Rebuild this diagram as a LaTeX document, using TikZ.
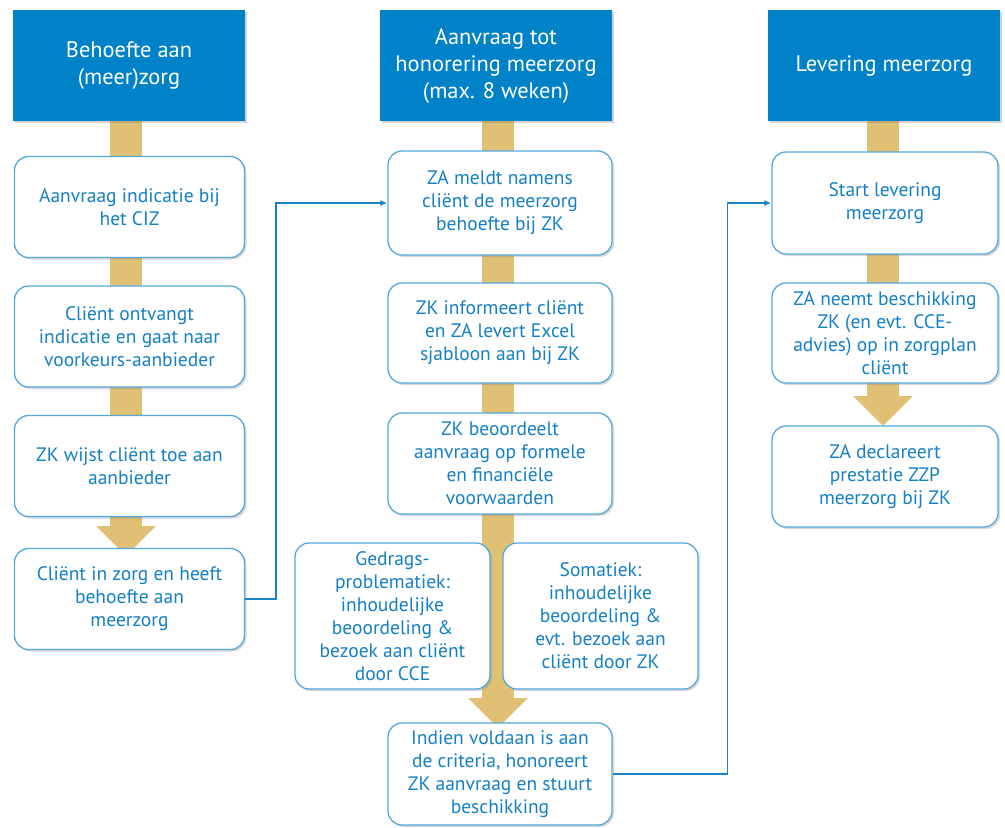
\documentclass[tikz,border=0pt]{standalone}
\usepackage{fontspec}
\setmainfont{PT Sans}
\usepackage{tikz}
\usetikzlibrary{arrows.meta,positioning,shadows}
\definecolor{hdblue}{HTML}{0082C8}
\definecolor{txblue}{HTML}{1580C6}
\definecolor{edblue}{HTML}{55A8DB}
\definecolor{gold}{HTML}{DFC075}
\definecolor{lnblue}{HTML}{1A82C6}

\begin{document}
\begin{tikzpicture}[
  x=1pt,y=-1pt,
  every node/.style={font=\fontsize{19.5}{23}\selectfont,align=center},
  header/.style={fill=hdblue,text=white,minimum width=232pt,minimum height=111pt,inner sep=2pt,
    font=\fontsize{22.4}{27}\selectfont,drop shadow={shadow xshift=2pt,shadow yshift=-2pt,opacity=.35}},
  stepbox/.style={draw=edblue,line width=1.3pt,rounded corners=14pt,fill=white,text=txblue,
    minimum width=230pt,minimum height=101pt,inner sep=2pt,
    drop shadow={shadow xshift=2pt,shadow yshift=-2pt,opacity=.3}},
  flow/.style={draw=gold,line width=32pt,-{Triangle[width=58pt,length=30pt]}},
  link/.style={draw=lnblue,line width=1.6pt,-{Latex[length=7pt,width=6pt]}}
]
\useasboundingbox (0,0) rectangle (1005,828);
\coordinate (top1) at (126,121);
\coordinate (tip1) at (126,556);
\coordinate (top2) at (498,121);
\coordinate (tip2) at (498,728);
\coordinate (top3) at (883,121);
\coordinate (tip3) at (883,426);
\draw[flow] (top1) -- (tip1);
\draw[flow] (top2) -- (tip2);
\draw[flow] (top3) -- (tip3);
\node[header] (h1) at (129,65.5) {Behoefte aan\\(meer)zorg};
\node[header] (h2) at (496,65.5) {Aanvraag tot\\honorering meerzorg\\(max. 8 weken)};
\node[header] (h3) at (884,65.5) {Levering meerzorg};
\node[stepbox] (b1) at (129.5,207) {Aanvraag indicatie bij\\het CIZ};
\node[stepbox] (b2) at (129.5,336.5) {Cliënt ontvangt\\indicatie en gaat naar\\voorkeurs-aanbieder};
\node[stepbox] (b3) at (129.5,466) {ZK wijst cliënt toe aan\\aanbieder};
\node[stepbox] (b4) at (129.5,599) {Cliënt in zorg en heeft\\behoefte aan\\meerzorg};
\node[stepbox,minimum width=224pt,minimum height=104pt] (c1) at (500,203) {ZA meldt namens\\cliënt de meerzorg\\behoefte bij ZK};
\node[stepbox,minimum width=224pt,minimum height=100pt] (c2) at (500,333) {ZK informeert cliënt\\en ZA levert Excel\\sjabloon aan bij ZK};
\node[stepbox,minimum width=224pt] (c3) at (500,463.5) {ZK beoordeelt\\aanvraag op formele\\en financiële\\voorwaarden};
\node[stepbox,minimum width=195pt,minimum height=146pt] (c4) at (392.5,616) {Gedrags-\\problematiek:\\inhoudelijke\\beoordeling \&\\bezoek aan cliënt\\door CCE};
\node[stepbox,minimum width=195pt,minimum height=146pt] (c6) at (600.5,616) {Somatiek:\\inhoudelijke\\beoordeling \&\\evt. bezoek aan\\cliënt door ZK};
\node[stepbox,minimum width=224pt,minimum height=102pt] (c5) at (500,774) {Indien voldaan is aan\\de criteria, honoreert\\ZK aanvraag en stuurt\\beschikking};
\node[stepbox,minimum width=226pt,minimum height=102pt] (d1) at (885,203) {Start levering\\meerzorg};
\node[stepbox,minimum width=226pt,minimum height=100pt] (d2) at (885,333) {ZA neemt beschikking\\ZK (en evt. CCE-\\advies) op in zorgplan\\cliënt};
\node[stepbox,minimum width=226pt] (d3) at (885,476.5) {ZA declareert\\prestatie ZZP\\meerzorg bij ZK};
\draw[link] (b4.east) -- ++(31,0) |- (c1.west);
\draw[link] (c5.east) -- ++(115,0) |- (d1.west);
\end{tikzpicture}
\end{document}
